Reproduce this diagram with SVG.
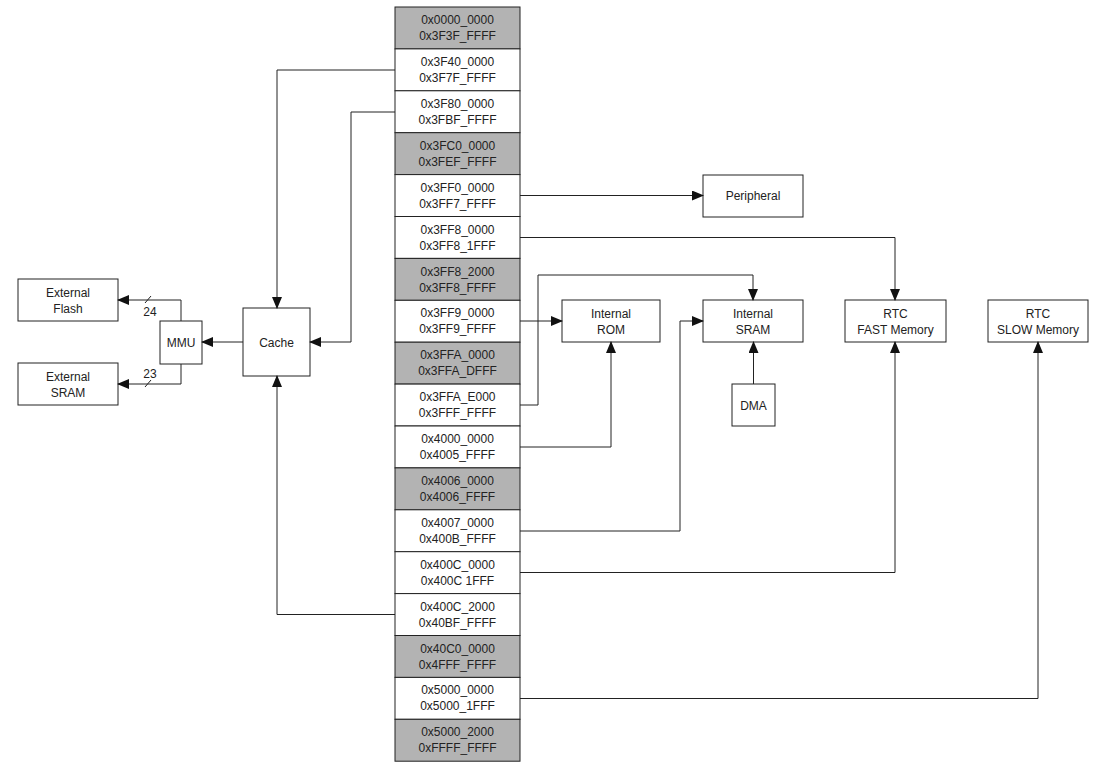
<svg xmlns="http://www.w3.org/2000/svg" width="1113" height="775" viewBox="0 0 1113 775">
<style>
text{font-family:"Liberation Sans",Arial,sans-serif;font-size:12px;fill:#222;text-anchor:middle}
.b{fill:#fff;stroke:#222;stroke-width:1}
.g{fill:#b3b3b3;stroke:#222;stroke-width:1}
.c{fill:none;stroke:#222;stroke-width:1}
</style>
<defs><marker id="a" markerWidth="12" markerHeight="10" refX="11" refY="5" orient="auto" markerUnits="userSpaceOnUse"><path d="M0,0L12,5L0,10z" fill="#111"/></marker></defs>
<rect width="1113" height="775" fill="#fff"/>
<g id="memmap">
<rect class="g" x="395" y="7" width="125" height="41.9"/><text x="457.5" y="24">0x0000_0000</text><text x="457.5" y="40">0x3F3F_FFFF</text>
<rect class="b" x="395" y="48.9" width="125" height="41.9"/><text x="457.5" y="66">0x3F40_0000</text><text x="457.5" y="82">0x3F7F_FFFF</text>
<rect class="b" x="395" y="90.8" width="125" height="41.9"/><text x="457.5" y="108">0x3F80_0000</text><text x="457.5" y="124">0x3FBF_FFFF</text>
<rect class="g" x="395" y="132.7" width="125" height="41.9"/><text x="457.5" y="150">0x3FC0_0000</text><text x="457.5" y="166">0x3FEF_FFFF</text>
<rect class="b" x="395" y="174.6" width="125" height="41.9"/><text x="457.5" y="192">0x3FF0_0000</text><text x="457.5" y="208">0x3FF7_FFFF</text>
<rect class="b" x="395" y="216.5" width="125" height="41.9"/><text x="457.5" y="234">0x3FF8_0000</text><text x="457.5" y="250">0x3FF8_1FFF</text>
<rect class="g" x="395" y="258.4" width="125" height="41.9"/><text x="457.5" y="276">0x3FF8_2000</text><text x="457.5" y="292">0x3FF8_FFFF</text>
<rect class="b" x="395" y="300.3" width="125" height="41.9"/><text x="457.5" y="317">0x3FF9_0000</text><text x="457.5" y="333">0x3FF9_FFFF</text>
<rect class="g" x="395" y="342.2" width="125" height="41.9"/><text x="457.5" y="359">0x3FFA_0000</text><text x="457.5" y="375">0x3FFA_DFFF</text>
<rect class="b" x="395" y="384.1" width="125" height="41.9"/><text x="457.5" y="401">0x3FFA_E000</text><text x="457.5" y="417">0x3FFF_FFFF</text>
<rect class="b" x="395" y="426" width="125" height="41.9"/><text x="457.5" y="443">0x4000_0000</text><text x="457.5" y="459">0x4005_FFFF</text>
<rect class="g" x="395" y="467.9" width="125" height="41.9"/><text x="457.5" y="485">0x4006_0000</text><text x="457.5" y="501">0x4006_FFFF</text>
<rect class="b" x="395" y="509.8" width="125" height="41.9"/><text x="457.5" y="527">0x4007_0000</text><text x="457.5" y="543">0x400B_FFFF</text>
<rect class="b" x="395" y="551.7" width="125" height="41.9"/><text x="457.5" y="569">0x400C_0000</text><text x="457.5" y="585">0x400C 1FFF</text>
<rect class="b" x="395" y="593.6" width="125" height="41.9"/><text x="457.5" y="611">0x400C_2000</text><text x="457.5" y="627">0x40BF_FFFF</text>
<rect class="g" x="395" y="635.5" width="125" height="41.9"/><text x="457.5" y="653">0x40C0_0000</text><text x="457.5" y="669">0x4FFF_FFFF</text>
<rect class="b" x="395" y="677.4" width="125" height="41.9"/><text x="457.5" y="694">0x5000_0000</text><text x="457.5" y="710">0x5000_1FFF</text>
<rect class="g" x="395" y="719.3" width="125" height="41.9"/><text x="457.5" y="736">0x5000_2000</text><text x="457.5" y="752">0xFFFF_FFFF</text>
</g>
<g id="ext-flash"><rect class="b" x="18" y="279" width="100" height="42"/><text x="68" y="297">External</text><text x="68" y="313">Flash</text></g>
<g id="ext-sram"><rect class="b" x="18" y="363" width="100" height="42"/><text x="68" y="381">External</text><text x="68" y="397">SRAM</text></g>
<g id="mmu"><rect class="b" x="160" y="321" width="42" height="43"/><text x="181" y="347">MMU</text></g>
<g id="cache"><rect class="b" x="243" y="308" width="67" height="68"/><text x="276.5" y="347">Cache</text></g>
<g id="peripheral"><rect class="b" x="703" y="175" width="100" height="42"/><text x="753" y="200">Peripheral</text></g>
<g id="rom"><rect class="b" x="562" y="300" width="98" height="42"/><text x="611" y="318">Internal</text><text x="611" y="334">ROM</text></g>
<g id="sram"><rect class="b" x="703" y="300" width="100" height="42"/><text x="753" y="318">Internal</text><text x="753" y="334">SRAM</text></g>
<g id="dma"><rect class="b" x="732" y="384" width="43" height="42"/><text x="753.5" y="410">DMA</text></g>
<g id="rtc-fast"><rect class="b" x="845" y="300" width="101" height="42"/><text x="895.5" y="318">RTC</text><text x="895.5" y="334">FAST Memory</text></g>
<g id="rtc-slow"><rect class="b" x="988" y="300" width="100" height="42"/><text x="1038" y="318">RTC</text><text x="1038" y="334">SLOW Memory</text></g>
<g id="connectors" class="c">
<path class="c" d="M395,70H277V308" marker-end="url(#a)"/>
<path class="c" d="M395,112H351V342H310" marker-end="url(#a)"/>
<path class="c" d="M395,614.5H277V376" marker-end="url(#a)"/>
<path class="c" d="M243,342H202" marker-end="url(#a)"/>
<path class="c" d="M181,321V300H118" marker-end="url(#a)"/>
<path class="c" d="M181,364V384H118" marker-end="url(#a)"/>
<path class="c" d="M145,303L151,296M145,387L151,380"/>
<path class="c" d="M520,195.5H703" marker-end="url(#a)"/>
<path class="c" d="M520,237.5H895V300" marker-end="url(#a)"/>
<path class="c" d="M520,321H562" marker-end="url(#a)"/>
<path class="c" d="M520,405H538V275H753V300" marker-end="url(#a)"/>
<path class="c" d="M520,447H611V342" marker-end="url(#a)"/>
<path class="c" d="M520,531H680V321H703" marker-end="url(#a)"/>
<path class="c" d="M753.5,384V342" marker-end="url(#a)"/>
<path class="c" d="M520,572.5H895V342" marker-end="url(#a)"/>
<path class="c" d="M520,698.5H1038V342" marker-end="url(#a)"/>
</g>
<text x="150" y="316">24</text>
<text x="150" y="378">23</text>
</svg>
